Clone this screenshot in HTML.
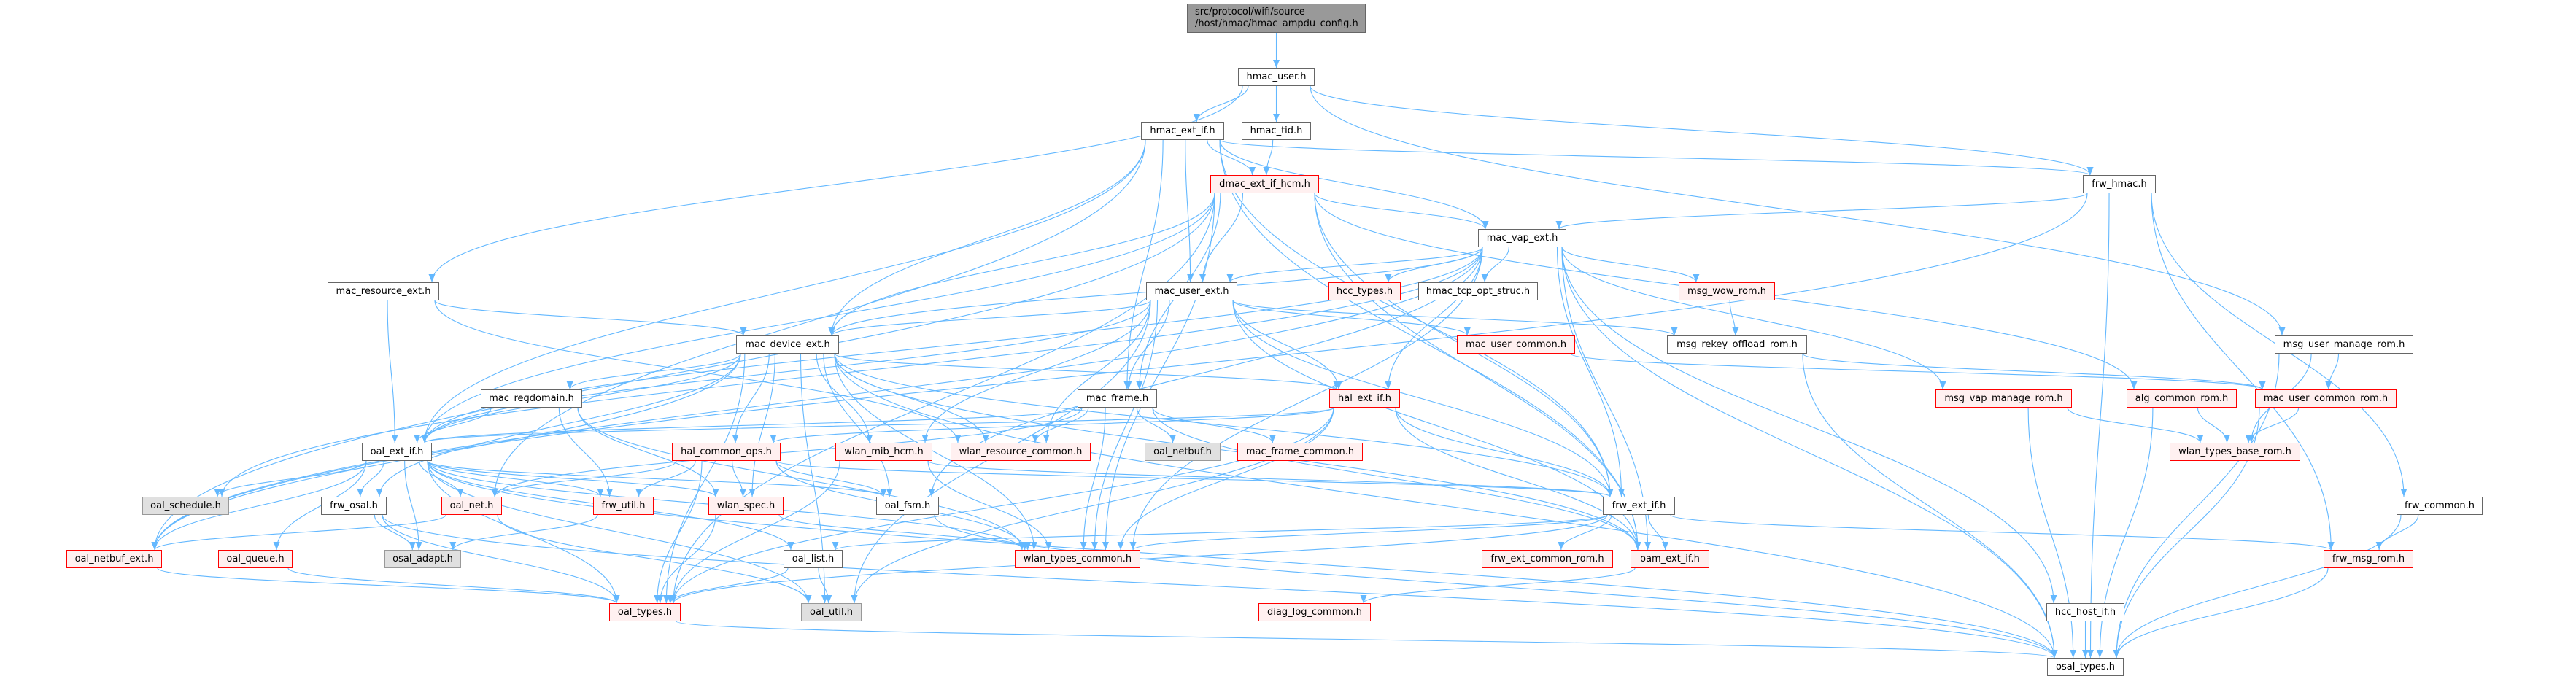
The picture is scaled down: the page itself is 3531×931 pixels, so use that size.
<!DOCTYPE html>
<html><head><meta charset="utf-8"><style>
html,body{margin:0;padding:0;background:#fff;}
#c{position:relative;width:3531px;height:931px;overflow:hidden;font-family:"DejaVu Sans","Liberation Sans",sans-serif;}
.n{position:absolute;height:25px;box-sizing:border-box;border:1px solid #666;background:#fff;font-size:13px;line-height:23px;text-align:center;color:#000;white-space:nowrap;z-index:2}
.r{border-color:#ff0000;background:#fff0f0}
.g{border-color:#999;background:#e0e0e0}
.t{background:#999;border-color:#666;height:40px;line-height:16px;text-align:left;padding:3px 0 0 10px}
svg{position:absolute;left:0;top:0;z-index:1}
</style></head><body><div id="c">
<svg id="s" width="3531" height="931"></svg>
<div class="n t" id="title" style="left:1627px;top:5px;width:245px">src/protocol/wifi/source<br>/host/hmac/hmac_ampdu_config.h</div>
<div class="n" id="hmac_user" style="left:1697px;top:93px;width:105px">hmac_user.h</div>
<div class="n" id="hmac_ext_if" style="left:1564px;top:167px;width:114px">hmac_ext_if.h</div>
<div class="n" id="hmac_tid" style="left:1702px;top:167px;width:95px">hmac_tid.h</div>
<div class="n r" id="dmac" style="left:1659px;top:240px;width:149px">dmac_ext_if_hcm.h</div>
<div class="n" id="frw_hmac" style="left:2855px;top:240px;width:100px">frw_hmac.h</div>
<div class="n" id="mac_vap_ext" style="left:2026px;top:314px;width:121px">mac_vap_ext.h</div>
<div class="n" id="mac_resource_ext" style="left:449px;top:387px;width:153px">mac_resource_ext.h</div>
<div class="n" id="mac_user_ext" style="left:1571px;top:387px;width:125px">mac_user_ext.h</div>
<div class="n r" id="hcc_types" style="left:1821px;top:387px;width:99px">hcc_types.h</div>
<div class="n" id="hmac_tcp" style="left:1944px;top:387px;width:164px">hmac_tcp_opt_struc.h</div>
<div class="n r" id="msg_wow" style="left:2301px;top:387px;width:132px">msg_wow_rom.h</div>
<div class="n" id="mac_device_ext" style="left:1009px;top:460px;width:141px">mac_device_ext.h</div>
<div class="n r" id="mac_user_common" style="left:1997px;top:460px;width:162px">mac_user_common.h</div>
<div class="n" id="msg_rekey" style="left:2285px;top:460px;width:192px">msg_rekey_offload_rom.h</div>
<div class="n" id="msg_user_manage" style="left:3118px;top:460px;width:190px">msg_user_manage_rom.h</div>
<div class="n" id="mac_regdomain" style="left:659px;top:534px;width:139px">mac_regdomain.h</div>
<div class="n" id="mac_frame" style="left:1477px;top:534px;width:109px">mac_frame.h</div>
<div class="n r" id="hal_ext_if" style="left:1822px;top:534px;width:97px">hal_ext_if.h</div>
<div class="n r" id="msg_vap_manage" style="left:2653px;top:534px;width:187px">msg_vap_manage_rom.h</div>
<div class="n r" id="alg_common_rom" style="left:2915px;top:534px;width:151px">alg_common_rom.h</div>
<div class="n r" id="mac_user_common_rom" style="left:3091px;top:534px;width:194px">mac_user_common_rom.h</div>
<div class="n" id="oal_ext_if" style="left:496px;top:607px;width:96px">oal_ext_if.h</div>
<div class="n r" id="hal_common_ops" style="left:921px;top:607px;width:149px">hal_common_ops.h</div>
<div class="n r" id="wlan_mib_hcm" style="left:1145px;top:607px;width:133px">wlan_mib_hcm.h</div>
<div class="n r" id="wlan_resource_common" style="left:1303px;top:607px;width:192px">wlan_resource_common.h</div>
<div class="n g" id="oal_netbuf" style="left:1569px;top:607px;width:104px">oal_netbuf.h</div>
<div class="n r" id="mac_frame_common" style="left:1696px;top:607px;width:172px">mac_frame_common.h</div>
<div class="n r" id="wlan_types_base_rom" style="left:2974px;top:607px;width:179px">wlan_types_base_rom.h</div>
<div class="n g" id="oal_schedule" style="left:195px;top:681px;width:119px">oal_schedule.h</div>
<div class="n" id="frw_osal" style="left:440px;top:681px;width:90px">frw_osal.h</div>
<div class="n r" id="oal_net" style="left:605px;top:681px;width:83px">oal_net.h</div>
<div class="n r" id="frw_util" style="left:813px;top:681px;width:83px">frw_util.h</div>
<div class="n r" id="wlan_spec" style="left:971px;top:681px;width:103px">wlan_spec.h</div>
<div class="n" id="oal_fsm" style="left:1201px;top:681px;width:86px">oal_fsm.h</div>
<div class="n" id="frw_ext_if" style="left:2197px;top:681px;width:99px">frw_ext_if.h</div>
<div class="n" id="frw_common" style="left:3285px;top:681px;width:118px">frw_common.h</div>
<div class="n r" id="oal_netbuf_ext" style="left:91px;top:754px;width:131px">oal_netbuf_ext.h</div>
<div class="n r" id="oal_queue" style="left:299px;top:754px;width:102px">oal_queue.h</div>
<div class="n g" id="osal_adapt" style="left:527px;top:754px;width:105px">osal_adapt.h</div>
<div class="n" id="oal_list" style="left:1074px;top:754px;width:81px">oal_list.h</div>
<div class="n r" id="wlan_types_common" style="left:1391px;top:754px;width:172px">wlan_types_common.h</div>
<div class="n r" id="frw_ext_common_rom" style="left:2031px;top:754px;width:180px">frw_ext_common_rom.h</div>
<div class="n r" id="oam_ext_if" style="left:2235px;top:754px;width:108px">oam_ext_if.h</div>
<div class="n r" id="frw_msg_rom" style="left:3185px;top:754px;width:123px">frw_msg_rom.h</div>
<div class="n r" id="oal_types" style="left:835px;top:827px;width:98px">oal_types.h</div>
<div class="n g" id="oal_util" style="left:1098px;top:827px;width:83px">oal_util.h</div>
<div class="n r" id="diag_log_common" style="left:1725px;top:827px;width:154px">diag_log_common.h</div>
<div class="n" id="hcc_host_if" style="left:2805px;top:827px;width:107px">hcc_host_if.h</div>
<div class="n" id="osal_types" style="left:2806px;top:902px;width:105px">osal_types.h</div>
</div>
<script>
var E={
title:["hmac_user"],
hmac_user:["hmac_ext_if","hmac_tid","frw_hmac","mac_resource_ext","msg_user_manage"],
hmac_ext_if:["dmac","mac_user_ext","mac_frame","mac_vap_ext","mac_device_ext","frw_hmac","oal_ext_if","oal_net","oam_ext_if","frw_ext_if"],
hmac_tid:["dmac"],
dmac:["mac_vap_ext","mac_user_ext","mac_device_ext","mac_frame","oal_ext_if","oal_netbuf_ext","oal_types","frw_ext_if","wlan_types_common","alg_common_rom","oam_ext_if"],
frw_hmac:["mac_vap_ext","osal_types","frw_common","frw_msg_rom","oal_netbuf_ext"],
mac_vap_ext:["mac_user_ext","mac_device_ext","hcc_types","hmac_tcp","msg_wow","msg_vap_manage","oal_ext_if","oal_schedule","oal_netbuf_ext","hal_ext_if","hcc_host_if","frw_ext_if","oam_ext_if","wlan_types_common","oal_fsm","osal_types"],
mac_user_ext:["mac_device_ext","mac_frame","mac_user_common","msg_rekey","hal_ext_if","wlan_mib_hcm","wlan_resource_common","oal_ext_if","frw_ext_if","wlan_types_common","oam_ext_if","oal_util"],
mac_resource_ext:["mac_device_ext","oal_ext_if","wlan_resource_common"],
mac_device_ext:["mac_regdomain","hal_common_ops","wlan_mib_hcm","wlan_resource_common","oal_ext_if","frw_osal","hal_ext_if","wlan_spec","oal_fsm","frw_ext_if","oam_ext_if","osal_types","wlan_types_common","oal_util","oal_netbuf_ext","oal_types"],
msg_wow:["msg_rekey"],
msg_rekey:["osal_types","mac_user_common_rom"],
msg_user_manage:["mac_user_common_rom","wlan_types_base_rom","osal_types"],
mac_user_common:["mac_user_common_rom"],
mac_regdomain:["oal_ext_if","frw_util","wlan_spec","wlan_types_common"],
mac_frame:["oal_ext_if","wlan_resource_common","oal_netbuf","mac_frame_common","wlan_types_common","oam_ext_if","oal_net"],
hal_ext_if:["oal_ext_if","hal_common_ops","frw_ext_if","oam_ext_if","wlan_types_common","oal_util","oal_types"],
alg_common_rom:["wlan_types_base_rom","osal_types"],
mac_user_common_rom:["wlan_types_base_rom","osal_types"],
msg_vap_manage:["wlan_types_base_rom","osal_types"],
oal_ext_if:["oal_schedule","oal_netbuf_ext","oal_queue","osal_adapt","frw_osal","oal_net","frw_util","wlan_spec","oal_list","oal_types","oal_util","oal_fsm","wlan_types_common","osal_types"],
hal_common_ops:["oal_net","frw_util","wlan_spec","oal_fsm","oal_types","wlan_types_common","frw_ext_if"],
wlan_mib_hcm:["wlan_types_common","oal_types","frw_ext_if"],
frw_osal:["osal_adapt","oal_types","osal_types"],
oal_net:["oal_netbuf_ext","oal_util"],
frw_util:["osal_adapt"],
wlan_spec:["oal_types","wlan_types_common"],
oal_fsm:["osal_types"],
frw_ext_if:["oal_list","wlan_types_common","frw_ext_common_rom","oam_ext_if","frw_msg_rom","oal_types"],
frw_common:["frw_msg_rom","osal_types"],
oal_netbuf_ext:["oal_types"],
oal_queue:["oal_types"],
oal_list:["oal_types","oal_util"],
oam_ext_if:["diag_log_common"],
frw_msg_rom:["osal_types"],
hcc_host_if:["osal_types"],
oal_types:["osal_types"]
};
function b(id){var e=document.getElementById(id);return {x:e.offsetLeft,y:e.offsetTop,w:e.offsetWidth,h:e.offsetHeight};}
function cl(v,a,m){return Math.max(a,Math.min(m,v));}
var s='<defs><marker id="a" markerUnits="userSpaceOnUse" markerWidth="12" markerHeight="10" refX="11" refY="5" orient="auto"><path d="M0,0.5 L11,5 L0,9.5 z" fill="#63b8ff"/></marker></defs>';
for(var k in E){var A=b(k);E[k].forEach(function(t){var B=b(t);
var ac=A.x+A.w/2,bc=B.x+B.w/2;
var sx=ac+cl((bc-ac)*0.3,-A.w/2+6,A.w/2-6),sy=A.y+A.h;
var tx=bc+cl((ac-bc)*0.15,-B.w/2+10,B.w/2-10),ty=B.y;
var dy=ty-sy;
s+='<path d="M'+sx+','+sy+' C'+sx+','+(sy+dy*0.45)+' '+tx+','+(ty-dy*0.45)+' '+tx+','+ty+'" fill="none" stroke="#63b8ff" stroke-width="1.1" marker-end="url(#a)"/>';});}
document.getElementById('s').innerHTML=s;
</script>
</body></html>
